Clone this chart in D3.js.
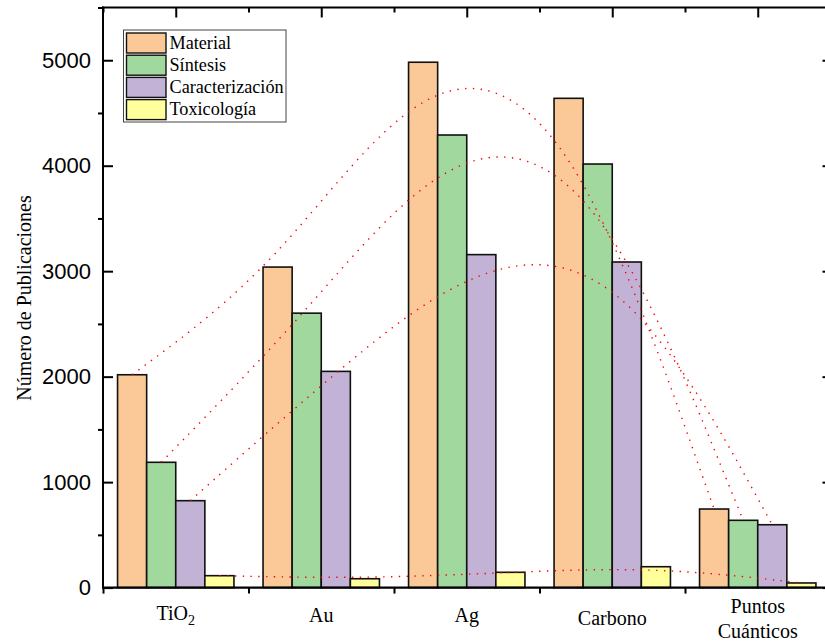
<!DOCTYPE html>
<html>
<head>
<meta charset="utf-8">
<script src="https://cdn.jsdelivr.net/npm/d3@7"></script>
<style>
  html, body { margin: 0; padding: 0; background: #fff; }
  svg { display: block; }
</style>
</head>
<body>
<svg id="chart" width="825" height="642"></svg>
<script>
// ---------------- data ----------------
const categories = ["TiO2", "Au", "Ag", "Carbono", "Puntos Cuánticos"];
const seriesNames = ["Material", "Síntesis", "Caracterización", "Toxicología"];
const material        = [2018, 3039, 4981, 4639, 745];
const sintesis        = [1188, 2602, 4291, 4016, 638];
const caracterizacion = [824, 2050, 3157, 3087, 596];
const toxicologia     = [113, 84, 145, 198, 44];
const yMajorTicks = [0, 1000, 2000, 3000, 4000, 5000];
const yMinorTicks = [500, 1500, 2500, 3500, 4500, 5500];
const colors = ["#FBC998", "#A0D89E", "#C2B2D6", "#FFFF9C"];

const seriesValues = [material, sintesis, caracterizacion, toxicologia];

// ---------------- layout ----------------
const plotL = 103, plotR = 830.5, plotT = 7.5, plotB = 587.6;
const serif = "'Liberation Serif','Times New Roman',Times,serif";
const sans = "'Liberation Sans',Arial,Helvetica,sans-serif";

const svg = d3.select("#chart");

const x = d3.scaleBand().domain(categories).range([plotL, plotR]).paddingInner(0).paddingOuter(0);
const xs = d3.scaleBand().domain(seriesNames).range([0, x.bandwidth()]).paddingInner(0).paddingOuter(0.5);
const y = d3.scaleLinear().domain([0, 5500]).range([plotB, plotT]);

// ---------------- bars ----------------
const gBars = svg.append("g");
seriesNames.forEach((s, si) => {
  gBars.selectAll(null)
    .data(categories.map((c, ci) => ({ c, v: seriesValues[si][ci] })))
    .join("rect")
    .attr("x", d => x(d.c) + xs(s))
    .attr("y", d => y(d.v))
    .attr("width", xs.bandwidth())
    .attr("height", d => y(0) - y(d.v))
    .attr("fill", colors[si])
    .attr("stroke", "#111")
    .attr("stroke-width", 1.6);
});

// ---------------- B-spline trend lines ----------------
const line = d3.line()
  .x(d => d.x)
  .y(d => d.y)
  .curve(d3.curveBasis);
const gLines = svg.append("g");
seriesNames.forEach((s, si) => {
  const pts = categories.map((c, ci) => ({
    x: x(c) + xs(s) + xs.bandwidth() / 2,
    y: y(seriesValues[si][ci])
  }));
  gLines.append("path")
    .attr("d", line(pts))
    .attr("fill", "none")
    .attr("stroke", "#FF0000")
    .attr("stroke-width", 1.4)
    .attr("stroke-dasharray", "1.4,6.4");
});

// ---------------- axes ----------------
function styleAxis(g) {
  g.select(".domain").remove();
  g.selectAll(".tick line").attr("stroke", "#000").attr("stroke-width", 2);
}

// left major (inward) with labels
svg.append("g")
  .attr("transform", `translate(${plotL},0)`)
  .call(d3.axisLeft(y).tickValues(yMajorTicks).tickSize(-10).tickPadding(12).tickFormat(d3.format("d")))
  .call(styleAxis)
  .call(g => g.selectAll("text").attr("font-family", sans).attr("font-size", 22).attr("fill", "#000"));
// left minor (outward)
svg.append("g")
  .attr("transform", `translate(${plotL},0)`)
  .call(d3.axisLeft(y).tickValues(yMinorTicks).tickSize(5).tickFormat(""))
  .call(styleAxis);
// right major (inward)
svg.append("g")
  .attr("transform", `translate(${plotR},0)`)
  .call(d3.axisRight(y).tickValues(yMajorTicks).tickSize(-8).tickFormat(""))
  .call(styleAxis);

// top axis: major at category centres, minor at boundaries (inward)
const centers = categories.map(c => x(c) + x.bandwidth() / 2);
const bounds = categories.map(c => x(c)).concat([plotR]);
const xl = d3.scaleLinear().domain([plotL, plotR]).range([plotL, plotR]);
svg.append("g")
  .attr("transform", `translate(0,${plotT})`)
  .call(d3.axisTop(xl).tickValues(centers).tickSize(-10).tickFormat(""))
  .call(styleAxis);
svg.append("g")
  .attr("transform", `translate(0,${plotT})`)
  .call(d3.axisTop(xl).tickValues(bounds).tickSize(-5).tickFormat(""))
  .call(styleAxis);
// bottom axis: ticks at boundaries (outward)
svg.append("g")
  .attr("transform", `translate(0,${plotB})`)
  .call(d3.axisBottom(xl).tickValues(bounds).tickSize(6).tickFormat(""))
  .call(styleAxis);

// frame
svg.append("line").attr("x1", plotL).attr("x2", plotL).attr("y1", plotT - 1).attr("y2", plotB + 1)
  .attr("stroke", "#000").attr("stroke-width", 2);
svg.append("line").attr("x1", plotR).attr("x2", plotR).attr("y1", plotT - 1).attr("y2", plotB + 1)
  .attr("stroke", "#000").attr("stroke-width", 2);
svg.append("line").attr("x1", plotL - 1).attr("x2", plotR + 1).attr("y1", plotT).attr("y2", plotT)
  .attr("stroke", "#000").attr("stroke-width", 2);
svg.append("line").attr("x1", plotL - 1).attr("x2", plotR + 1).attr("y1", plotB).attr("y2", plotB)
  .attr("stroke", "#000").attr("stroke-width", 2.2);

// category labels
const gX = svg.append("g").attr("font-family", serif).attr("font-size", 20).attr("fill", "#000");
categories.forEach((c, i) => {
  const cx = x(c) + x.bandwidth() / 2;
  const t = gX.append("text").attr("text-anchor", "middle").attr("x", cx);
  const m = c.match(/^([A-Za-z]+)(\d+)$/);
  if (m) {
    t.attr("y", 620);
    t.append("tspan").text(m[1]);
    t.append("tspan").attr("font-size", 14).attr("dy", 5).text(m[2]);
  } else if (c.includes(" ")) {
    const parts = c.split(" ");
    parts.forEach((p, pi) => {
      t.append("tspan").attr("x", cx).attr("y", 613 + pi * 25).text(p);
    });
  } else {
    t.attr("y", c === "Carbono" ? 625 : 621.5).text(c);
  }
});

// y-axis title
svg.append("text")
  .attr("transform", `translate(31,298) rotate(-90)`)
  .attr("text-anchor", "middle")
  .attr("font-family", serif)
  .attr("font-size", 20)
  .attr("fill", "#000")
  .text("Número de Publicaciones");

// ---------------- legend ----------------
const lg = svg.append("g");
lg.append("rect")
  .attr("x", 123.5).attr("y", 30).attr("width", 162.5).attr("height", 92)
  .attr("fill", "#fff").attr("stroke", "#444").attr("stroke-width", 1);
seriesNames.forEach((s, i) => {
  lg.append("rect")
    .attr("x", 126.5).attr("y", 33 + i * 22.2).attr("width", 39.5).attr("height", 20)
    .attr("fill", colors[i]).attr("stroke", "#111").attr("stroke-width", 1.4);
  lg.append("text")
    .attr("x", 169.5).attr("y", 48.5 + i * 22.2)
    .attr("font-family", serif).attr("font-size", 18.2).attr("fill", "#000")
    .text(s);
});
</script>
</body>
</html>
